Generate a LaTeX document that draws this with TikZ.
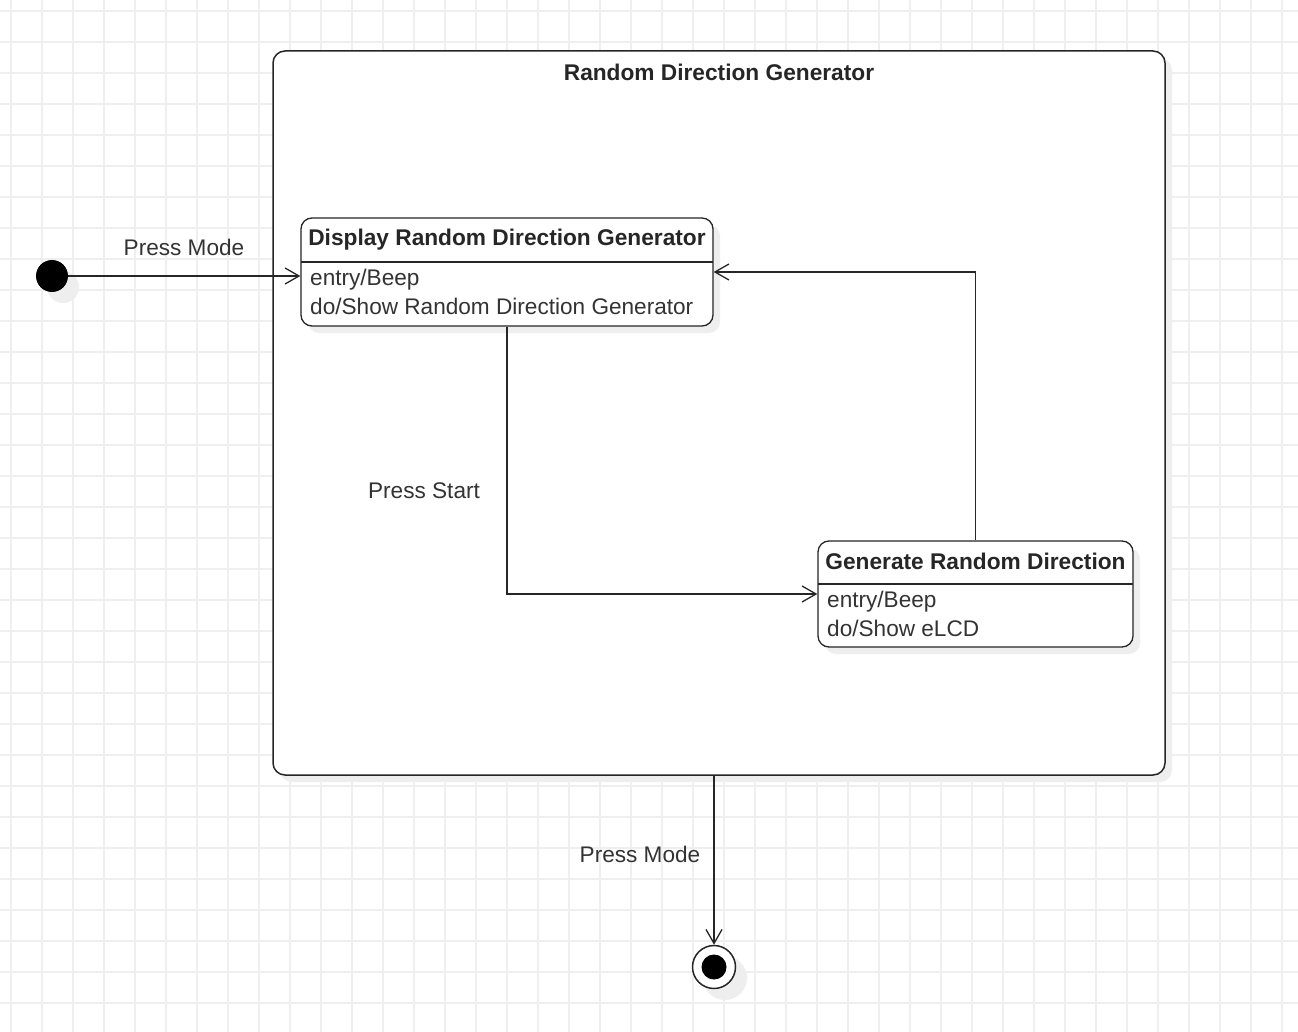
\documentclass[tikz,border=0pt]{standalone}
\usepackage{fontspec}
\setmainfont{Liberation Sans}
\usetikzlibrary{arrows.meta,shadows}
\definecolor{gridc}{HTML}{EFEFEF}
\definecolor{txt}{HTML}{333333}
\definecolor{shd}{HTML}{EEEEEE}
\tikzset{
  x=1pt,y=-1pt,
  shadowed/.style={drop shadow={shadow xshift=7pt,shadow yshift=-7pt,fill=shd,opacity=1}},
  container/.style={draw=black!85,line width=1.5pt,fill=white,rounded corners=12pt,minimum width=892pt,minimum height=724pt,shadowed},
  statebox/.style={draw=black!85,line width=1.3pt,fill=white,rounded corners=11pt,shadowed},
  ttl/.style={font=\fontsize{22.7}{26}\selectfont\bfseries,text=black!85,inner sep=0pt},
  body/.style={font=\fontsize{22.6}{26}\selectfont,text=txt,inner sep=0pt,anchor=west},
  lbl/.style={font=\fontsize{22.6}{26}\selectfont,text=txt,inner sep=0pt},
  trans/.style={draw=black!85,line width=1.3pt,-{Straight Barb[length=14pt,width=16pt,line width=1.3pt]}},
}
\begin{document}
\begin{tikzpicture}
\useasboundingbox (0,0) rectangle (1298,1032);
\fill[white] (0,0) rectangle (1298,1032);
% grid
\foreach \i in {0,...,41} {\draw[gridc,line width=1.3pt] (11+31*\i,0) -- (11+31*\i,1032);}
\foreach \j in {0,...,33} {\draw[gridc,line width=1.3pt] (0,11+31*\j) -- (1298,11+31*\j);}
% container
\node[container] (cont) at (719,413) {};
\node[ttl] (conttitle) at (719,72) {Random Direction Generator};
% state 1
\node[statebox,minimum width=412pt,minimum height=108pt] (s1) at (507,272) {};
\coordinate (s1dl) at (301,262);
\coordinate (s1dr) at (713,262);
\draw[black!85,line width=1.3pt] (s1dl) -- (s1dr);
\node[ttl] (s1t) at (507,240) {Display Random Direction Generator};
\node[body] (s1a) at (310,280) {entry/Beep};
\node[body] (s1b) at (310,306) {do/Show Random Direction Generator};
% state 2
\node[statebox,minimum width=315pt,minimum height=106pt] (s2) at (975.5,594) {};
\coordinate (s2dl) at (818,584);
\coordinate (s2dr) at (1133,584);
\draw[black!85,line width=1.3pt] (s2dl) -- (s2dr);
\node[ttl] (s2t) at (975.5,561) {Generate Random Direction};
\node[body] (s2a) at (827,602) {entry/Beep};
\node[body] (s2b) at (827,628) {do/Show eLCD};
% initial
\fill[shd] (63,287) circle (16);
\node[circle,fill=black,minimum size=32pt,inner sep=0pt] (init) at (52,276) {};
% final
\fill[shd] (725,978) circle (22);
\node[circle,draw=black!85,line width=1.5pt,fill=white,minimum size=43pt,inner sep=0pt] (fin) at (714,967) {};
\node[circle,fill=black,minimum size=25pt,inner sep=0pt] (finin) at (714,967) {};
% transitions
\draw[trans] (init) -- (init -| s1.west);
\node[lbl] (l1) at (184,247) {Press Mode};
\draw[trans] (s1.south) |- (s2.west);
\node[lbl] (l2) at (424,491) {Press Start};
\draw[trans] (s2.north) |- (s1.east);
\coordinate (cb) at (cont.south -| fin);
\draw[trans] (cb) -- (fin.north);
\node[lbl] (l3) at (640,854) {Press Mode};
\end{tikzpicture}
\end{document}
